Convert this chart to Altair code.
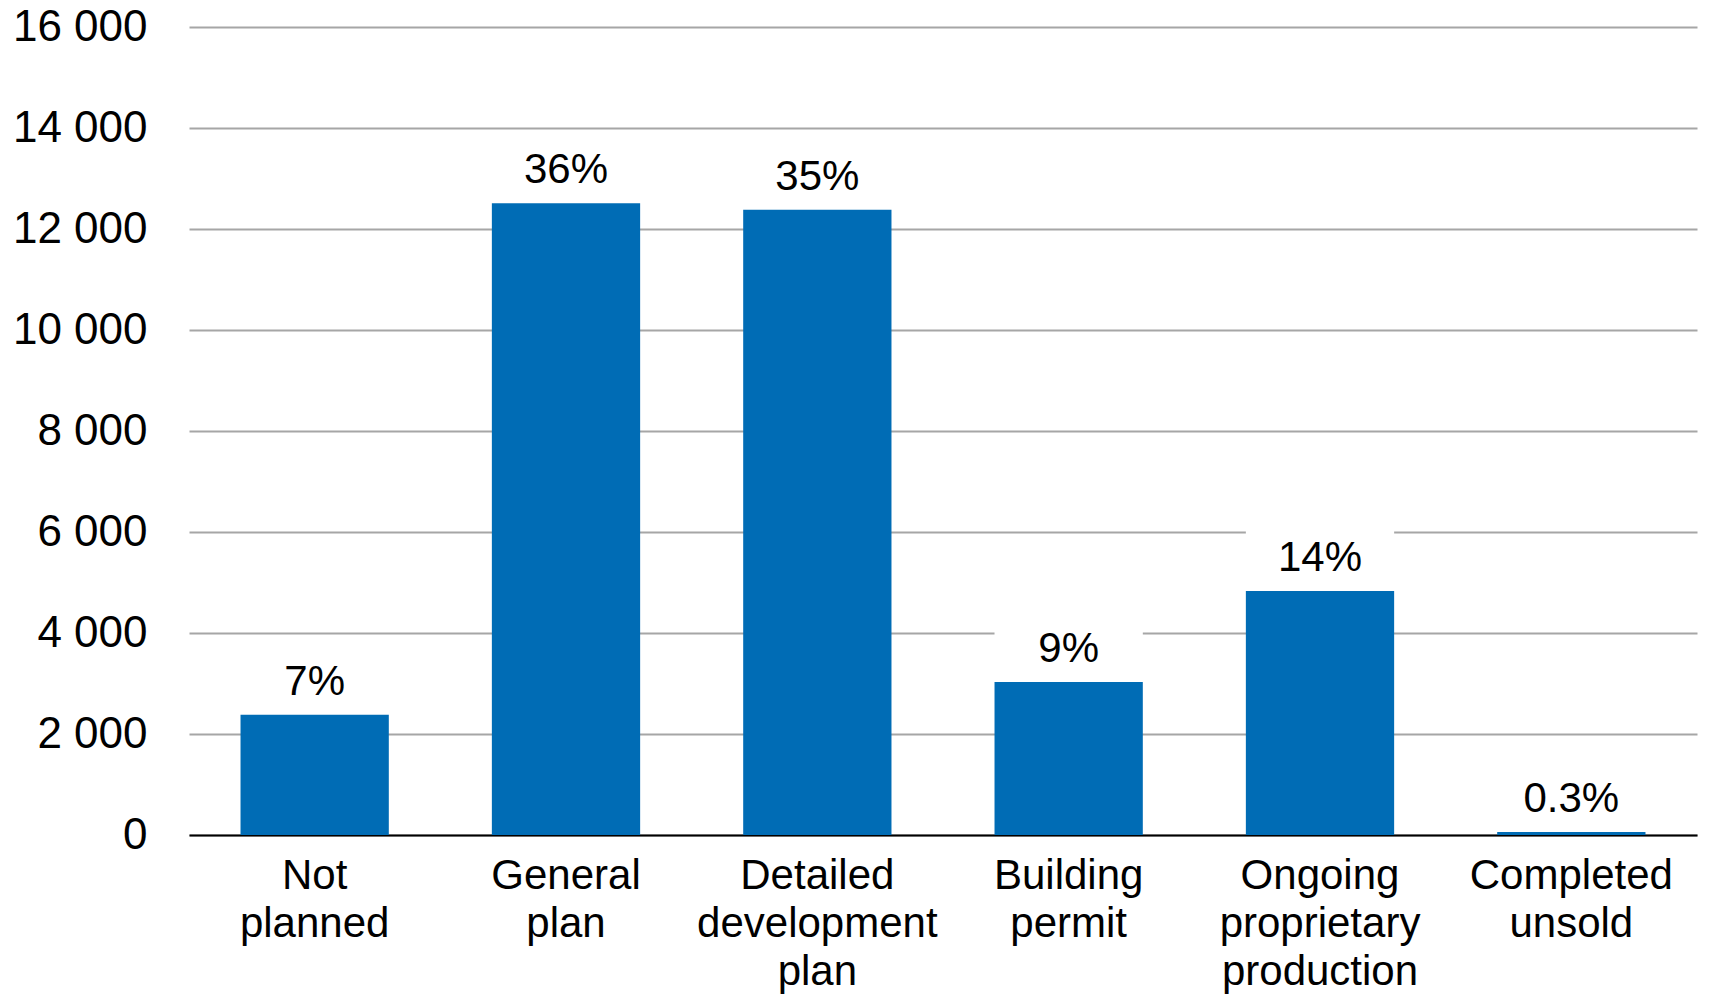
import altair as alt
import pandas as pd

categories = ["Not|planned", "General|plan", "Detailed|development|plan",
              "Building|permit", "Ongoing|proprietary|production", "Completed|unsold"]
values = [2380, 12510, 12380, 3030, 4830, 60]
pct_labels = ["7%", "36%", "35%", "9%", "14%", "0.3%"]
y_ticks = [0, 2000, 4000, 6000, 8000, 10000, 12000, 14000, 16000]

df = pd.DataFrame({"cat": categories, "value": values, "pct": pct_labels})

FONT = "Liberation Sans"
BLUE = "#006cb5"

x = alt.X("cat:N", sort=categories,
          scale=alt.Scale(paddingInner=0.41, paddingOuter=0.205),
          axis=alt.Axis(title=None, labelAngle=0, labelExpr="split(datum.label, '|')",
                        labelFontSize=42, labelFont=FONT, labelColor="black",
                        labelLineHeight=48, labelPadding=20, ticks=False,
                        labelLimit=0, labelOverlap=False, grid=False,
                        domain=True, domainColor="black", domainWidth=2,
                        labelBaseline="top"))
y = alt.Y("value:Q", scale=alt.Scale(domain=[0, 16000], nice=False),
          axis=alt.Axis(title=None, values=y_ticks,
                        labelExpr="replace(format(datum.value, ','), ',', ' ')",
                        labelFontSize=44, labelFont=FONT, labelColor="black",
                        labelPadding=42, ticks=False, domain=False,
                        grid=True, gridColor="#a6a6a6", gridWidth=2))

base = alt.Chart(df)
bars = base.mark_bar(color=BLUE).encode(x=x, y=y)
boxes = base.mark_bar(color="white", yOffset=-62, y2Offset=-14).encode(
    x=alt.X("cat:N", sort=categories), y=alt.Y("value:Q"), y2=alt.Y2("value"))
text = base.mark_text(baseline="alphabetic", dy=-20, fontSize=42, font=FONT,
                      color="black").encode(
    x=alt.X("cat:N", sort=categories), y=alt.Y("value:Q"), text="pct:N")

chart = (
    alt.layer(bars, boxes, text)
    .properties(
        width=1508, height=808,
        autosize=alt.AutoSizeParams(type="none"),
        padding={"left": 189, "top": 27, "right": 13, "bottom": 159},
    )
    .configure(background="white")
    .configure_view(strokeWidth=0, stroke=None)
    .configure_axisY(domain=False, ticks=False)
    .configure_axisX(grid=False, ticks=False)
)

chart.save("out.html", embed_options={"renderer": "svg", "actions": False})
